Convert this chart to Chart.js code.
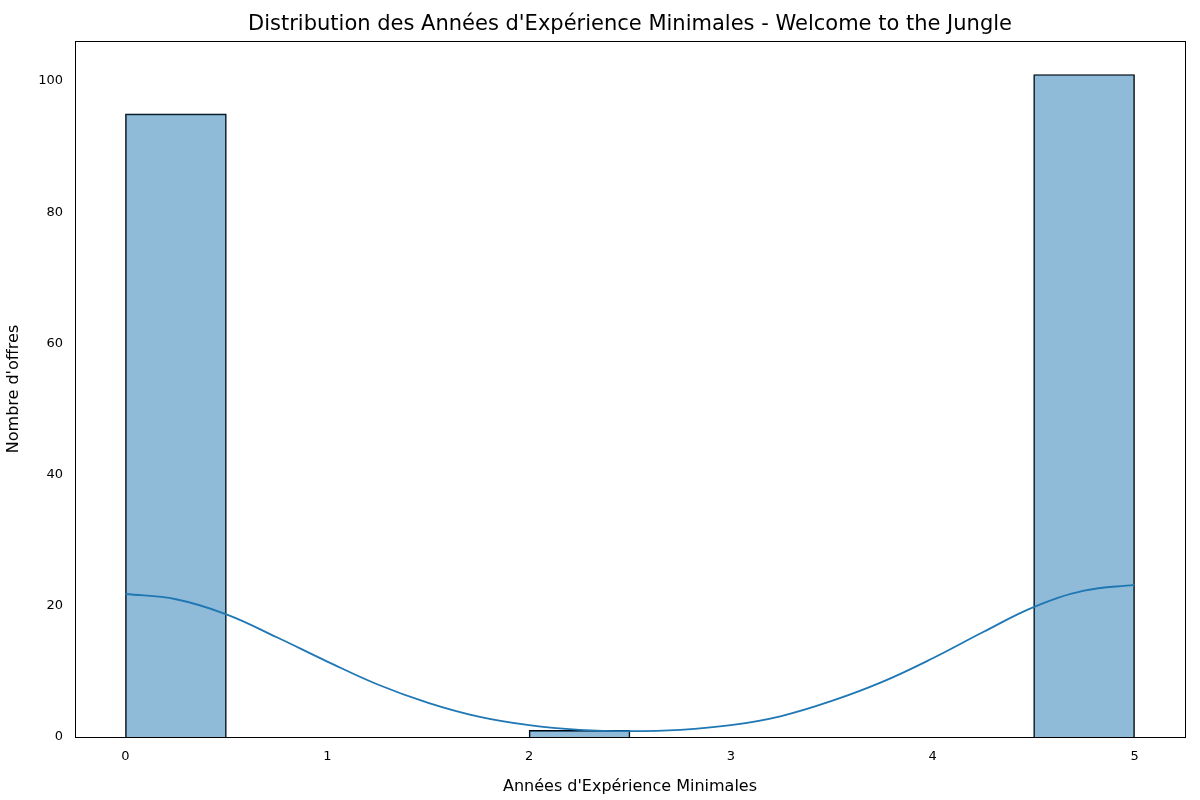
<!DOCTYPE html>
<html><head><meta charset="utf-8">
<script src="https://cdn.jsdelivr.net/npm/chart.js@4/dist/chart.umd.min.js"></script>
<style>html,body{margin:0;background:#fff}#w{width:1200px;height:800px}</style>
</head><body><div id="w"><canvas id="c"></canvas></div>
<script>
const binCenters = [0.25,0.75,1.25,1.75,2.25,2.75,3.25,3.75,4.25,4.75];
const binCounts  = [95,0,0,0,1,0,0,0,0,101];
const kdeX = [0,0.25,0.5,0.75,1,1.25,1.5,1.75,2,2.25,2.5,2.75,3,3.25,3.5,3.75,4,4.25,4.5,4.75,5];
const kdeY = [21.8,21,18.7,15.2,11.5,8,5.2,3.1,1.8,1.1,0.9,1.1,1.8,3.2,5.5,8.4,12,16,19.8,22.3,23.2];
const titleText = "Distribution des Années d'Expérience Minimales - Welcome to the Jungle";
const xTitle = "Années d'Expérience Minimales";
const yTitle = "Nombre d'offres";
const F = "'DejaVu Sans', sans-serif";

const frame = {
  id:'frame',
  afterDraw(ch){
    const {ctx, chartArea:a} = ch;
    ctx.save();
    ctx.strokeStyle='#000'; ctx.lineWidth=1;
    ctx.strokeRect(Math.round(a.left)+0.5, Math.round(a.top)+0.5, Math.round(a.right-a.left), Math.round(a.bottom-a.top));
    ctx.fillStyle='#000'; ctx.font="21px "+F; ctx.textAlign='center'; ctx.textBaseline='middle';
    ctx.fillText(titleText, (a.left+a.right)/2, 25);
    ctx.restore();
  }
};

new Chart(document.getElementById('c'), {
  data: {
    datasets: [
      {type:'bar', data: binCenters.map((x,i)=>({x, y: binCounts[i]})),
       backgroundColor:'rgba(31,119,180,0.5)', borderColor:'#000', borderWidth:1,
       barPercentage:1, categoryPercentage:1, order:2},
      {type:'line', data: kdeX.map((x,i)=>({x, y: kdeY[i]})),
       borderColor:'#1f77b4', borderWidth:1.8, pointRadius:0, tension:0.4, fill:false, order:1}
    ]
  },
  options: {
    responsive:true, maintainAspectRatio:false, animation:false,
    layout:{padding:{top:41, right:15, left:0, bottom:0}},
    plugins:{legend:{display:false}, tooltip:{enabled:false}, title:{display:false}},
    scales:{
      x:{type:'linear', min:-0.25, max:5.25, offset:false,
         afterFit(s){s.height=63;},
         afterBuildTicks(s){s.ticks=[0,1,2,3,4,5].map(v=>({value:v}));},
         grid:{display:false, drawTicks:true}, border:{display:false},
         ticks:{color:'#000', font:{family:F,size:13}, padding:4},
         title:{display:true, text:xTitle, color:'#000', font:{family:F,size:16}, padding:{top:4}}},
      y:{min:0, max:106.1,
         afterFit(s){s.width=75;},
         afterBuildTicks(s){s.ticks=[0,20,40,60,80,100].map(v=>({value:v}));},
         grid:{display:false}, border:{display:false},
         ticks:{color:'#000', font:{family:F,size:13}, padding:4},
         title:{display:true, text:yTitle, color:'#000', font:{family:F,size:16}, padding:{bottom:4}}}
    }
  },
  plugins:[frame]
});
</script></body></html>
